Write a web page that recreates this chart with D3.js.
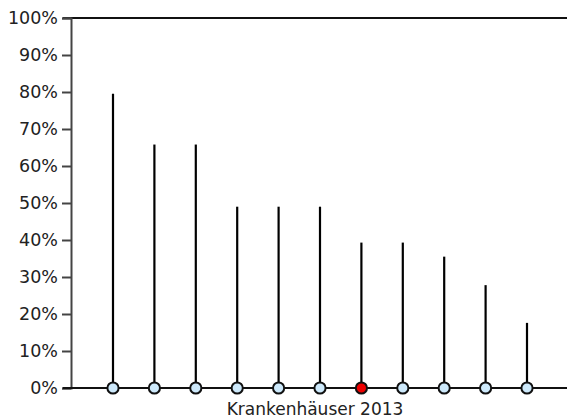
<!DOCTYPE html>
<html><head><meta charset="utf-8">
<script src="https://cdn.jsdelivr.net/npm/d3@7"></script>
<style>body{margin:0;background:#fff}svg{display:block}text{font-family:"DejaVu Sans",Verdana,sans-serif;fill:#222}</style>
</head><body><svg id="c" width="567" height="419"></svg>
<script>
const positions = [1,2,3,4,5,6,7,8,9,10,11];
const values = [0.795, 0.658, 0.658, 0.49, 0.49, 0.49, 0.393, 0.393, 0.355, 0.278, 0.176];
const highlight = [false,false,false,false,false,false,true,false,false,false,false];
const yTicks = [0,0.1,0.2,0.3,0.4,0.5,0.6,0.7,0.8,0.9,1];
const xLabel = "Krankenhäuser 2013";

const svg = d3.select("#c");
const x = d3.scaleLinear().domain([0,12]).range([71.6,568.4]);
const y = d3.scaleLinear().domain([0,1]).range([388,18]);

svg.append("line").attr("x1",63).attr("x2",567).attr("y1",y(1)).attr("y2",y(1)).attr("stroke","#111").attr("stroke-width",2);

const yAxis = svg.append("g").attr("transform","translate(71,0)")
  .call(d3.axisLeft(y).tickValues(yTicks).tickFormat(d3.format(".0%")).tickSize(9).tickPadding(4));
yAxis.select(".domain").attr("stroke","#444").attr("stroke-width",2);
yAxis.selectAll(".tick line").attr("stroke","#444").attr("stroke-width",2);
yAxis.selectAll("text").style("font-size","17.5px").attr("fill","#222");

svg.append("line").attr("x1",63).attr("x2",567).attr("y1",y(0)).attr("y2",y(0)).attr("stroke","#111").attr("stroke-width",2);

svg.selectAll(".stem").data(values).enter().append("line")
  .attr("x1",(d,i)=>x(positions[i])).attr("x2",(d,i)=>x(positions[i]))
  .attr("y1",y(0)).attr("y2",d=>y(d)).attr("stroke","#000").attr("stroke-width",2.2);

svg.selectAll(".dot").data(values).enter().append("circle")
  .attr("cx",(d,i)=>x(positions[i])).attr("cy",y(0)).attr("r",5.6)
  .attr("fill",(d,i)=>highlight[i]?"#ee0000":"#cde9fb").attr("stroke","#111").attr("stroke-width",2);

svg.append("text").attr("x",315).attr("y",415).attr("text-anchor","middle").style("font-size","17px").text(xLabel);
</script></body></html>
